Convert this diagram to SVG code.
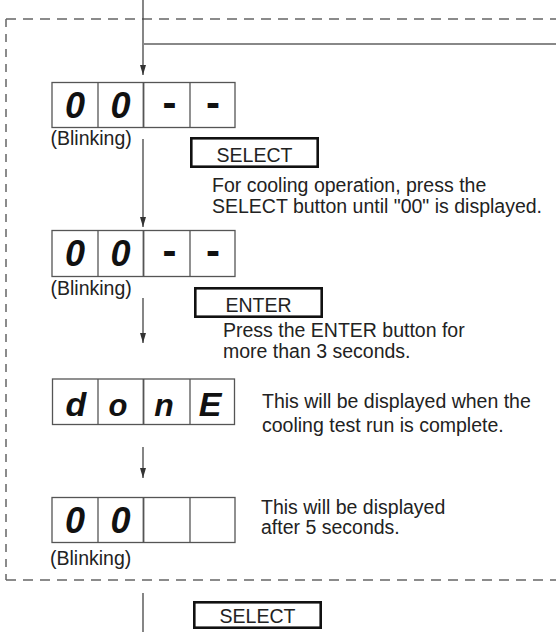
<svg xmlns="http://www.w3.org/2000/svg" width="556" height="632" viewBox="0 0 556 632">
<style>
.t{font-family:"Liberation Sans",Arial,sans-serif;font-size:19.5px;fill:#222}
.bt{font-family:"Liberation Sans",Arial,sans-serif;font-size:19.5px;fill:#222;text-anchor:middle}
.seg{font-family:"Liberation Sans",Arial,sans-serif;font-weight:bold;font-style:italic;font-size:36px;fill:#111;text-anchor:middle}
.dash{font-family:"Liberation Sans",Arial,sans-serif;font-weight:bold;font-size:42px;fill:#111;text-anchor:middle}
.box{fill:#fff;stroke:#555;stroke-width:1.3}
.div{stroke:#555;stroke-width:1.3}
.mid{stroke:#555;stroke-width:1.8}
.btn{fill:#fff;stroke:#111;stroke-width:2.6}
.frameH{fill:none;stroke:#666;stroke-width:1.5;stroke-dasharray:10 7}
.frameV{fill:none;stroke:#666;stroke-width:1.5;stroke-dasharray:8 7}
.conn{fill:none;stroke:#444;stroke-width:1.3}
</style>
<defs>
<marker id="ah" markerUnits="userSpaceOnUse" markerWidth="10" markerHeight="6" refX="10" refY="3" orient="auto">
<path d="M0,0 L10,3 L0,6 z" fill="#333"/>
</marker>
</defs>

<g id="frame">
<line class="frameH" x1="6" y1="19" x2="556" y2="19"/>
<line class="frameV" x1="6" y1="19" x2="6" y2="580"/>
<line class="frameH" x1="6" y1="580" x2="556" y2="580"/>
</g>

<g id="connectors">
<line class="conn" x1="143" y1="0" x2="143" y2="75" marker-end="url(#ah)"/>
<line x1="143" y1="44" x2="556" y2="44" stroke="#888" stroke-width="2"/>
<line class="conn" x1="143" y1="139" x2="143" y2="227" marker-end="url(#ah)"/>
<line class="conn" x1="143" y1="298" x2="143" y2="343" marker-end="url(#ah)"/>
<line class="conn" x1="143" y1="447" x2="143" y2="478" marker-end="url(#ah)"/>
<line class="conn" x1="143" y1="593" x2="143" y2="632"/>
</g>

<g id="display1">
<rect class="box" x="52" y="82.5" width="183" height="45"/>
<line class="div" x1="98" y1="82.5" x2="98" y2="127.5"/>
<line class="mid" x1="143.5" y1="82.5" x2="143.5" y2="127.5"/>
<line class="div" x1="190" y1="82.5" x2="190" y2="127.5"/>
<text class="seg" x="75" y="118">0</text>
<text class="seg" x="120.5" y="118">0</text>
<text class="dash" x="169.5" y="117">-</text>
<text class="dash" x="213" y="117">-</text>
<text class="t" x="50.5" y="145">(Blinking)</text>
</g>

<g id="select1">
<rect class="btn" x="191.3" y="138.3" width="126.4" height="28.4"/>
<text class="bt" x="254.5" y="162">SELECT</text>
<text class="t" x="212" y="192">For cooling operation, press the</text>
<text class="t" x="212" y="212.5">SELECT button until "00" is displayed.</text>
</g>

<g id="display2">
<rect class="box" x="52" y="230.5" width="183" height="46"/>
<line class="div" x1="98" y1="230.5" x2="98" y2="276.5"/>
<line class="mid" x1="143.5" y1="230.5" x2="143.5" y2="276.5"/>
<line class="div" x1="190" y1="230.5" x2="190" y2="276.5"/>
<text class="seg" x="75" y="266">0</text>
<text class="seg" x="120.5" y="266">0</text>
<text class="dash" x="169.5" y="265">-</text>
<text class="dash" x="213" y="265">-</text>
<text class="t" x="50.5" y="295">(Blinking)</text>
</g>

<g id="enter">
<rect class="btn" x="195.3" y="288.3" width="126.4" height="28.4"/>
<text class="bt" x="258.5" y="312">ENTER</text>
<text class="t" x="223" y="337">Press the ENTER button for</text>
<text class="t" x="223" y="357.5">more than 3 seconds.</text>
</g>

<g id="display3">
<rect class="box" x="52.5" y="379" width="182" height="45.5"/>
<line class="div" x1="98" y1="379" x2="98" y2="424.5"/>
<line class="mid" x1="143.5" y1="379" x2="143.5" y2="424.5"/>
<line class="div" x1="190" y1="379" x2="190" y2="424.5"/>
<text class="seg" x="76" y="416" style="font-size:34px">d</text>
<text class="seg" x="118" y="416" style="font-size:31px">o</text>
<text class="seg" x="164" y="416" style="font-size:32px">n</text>
<text class="seg" x="210" y="416" style="font-size:34px">E</text>
<text class="t" x="262" y="408">This will be displayed when the</text>
<text class="t" x="262" y="431.5">cooling test run is complete.</text>
</g>

<g id="display4">
<rect class="box" x="52" y="497.5" width="183" height="45"/>
<line class="div" x1="98" y1="497.5" x2="98" y2="542.5"/>
<line class="mid" x1="143.5" y1="497.5" x2="143.5" y2="542.5"/>
<line class="div" x1="190" y1="497.5" x2="190" y2="542.5"/>
<text class="seg" x="75" y="533">0</text>
<text class="seg" x="120.5" y="533">0</text>
<text class="t" x="261" y="513.5">This will be displayed</text>
<text class="t" x="261" y="534">after 5 seconds.</text>
<text class="t" x="50" y="565">(Blinking)</text>
</g>

<g id="select2">
<rect class="btn" x="194.3" y="602.3" width="126.4" height="25.4"/>
<text class="bt" x="257.5" y="623">SELECT</text>
</g>
</svg>
